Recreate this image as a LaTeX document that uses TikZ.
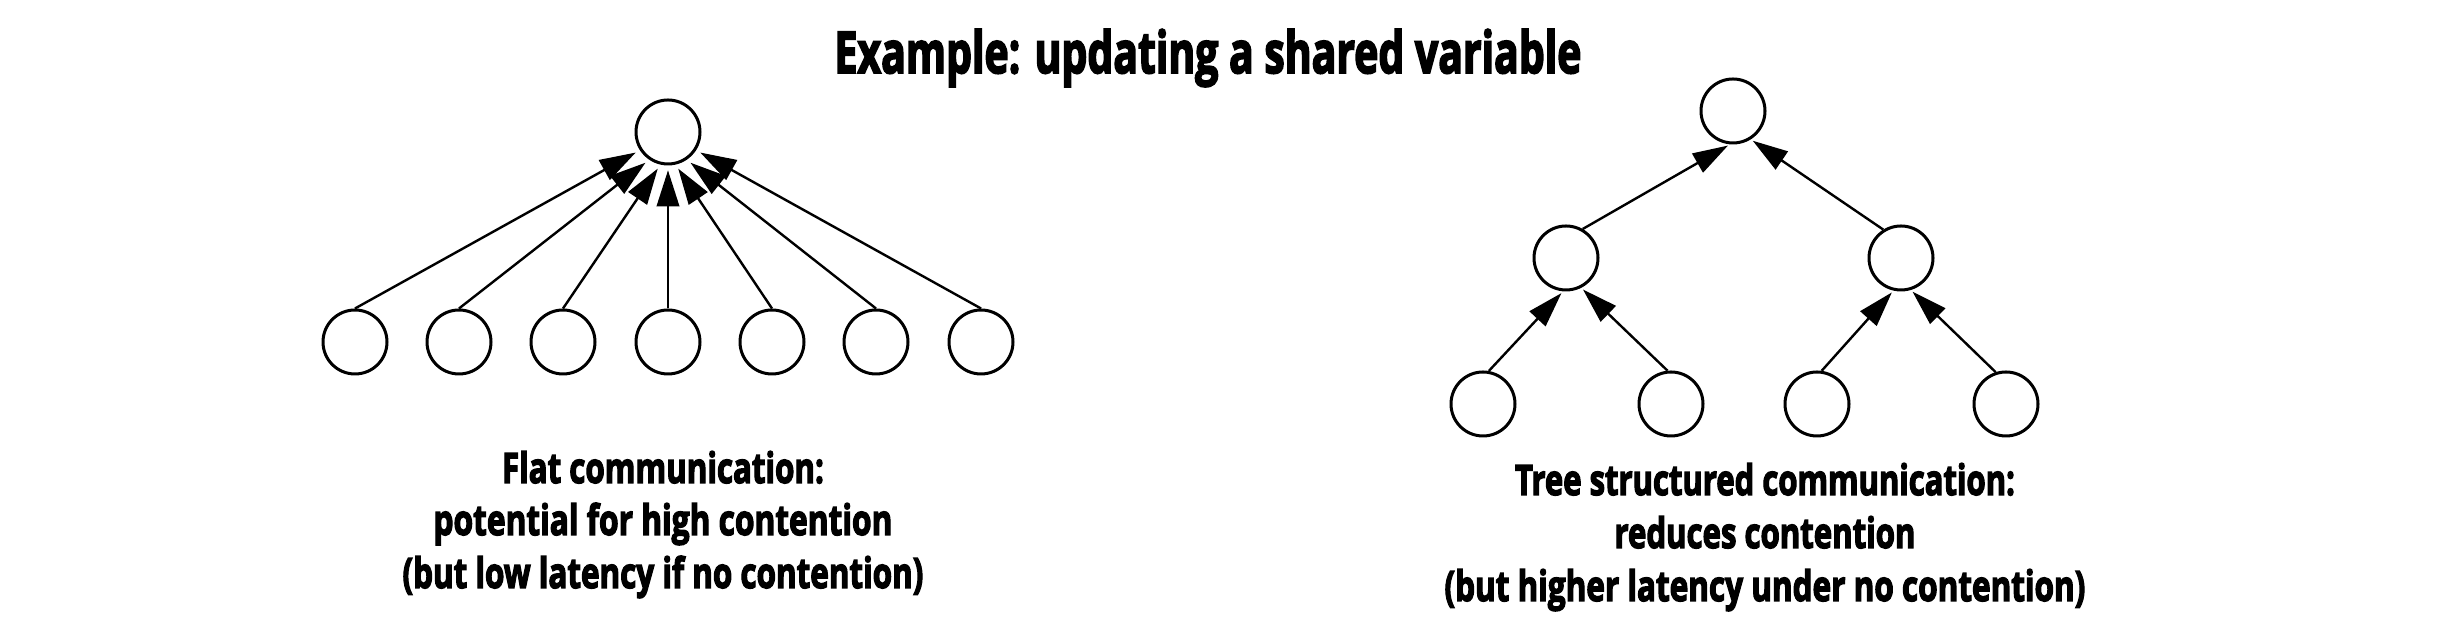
\documentclass[tikz,border=0pt]{standalone}
\usepackage{fontspec}
\usepackage{graphicx}
\usetikzlibrary{arrows.meta}
\newfontfamily\labfont{Open Sans}[FakeBold=3.5]
\tikzset{
  vtx/.style={circle, draw, line width=0.75pt, minimum size=16pt, inner sep=0pt},
  farr/.style={line width=0.6pt, -{Triangle[length=9pt,width=5.6pt]}, shorten >=1.2pt},
  tarr/.style={line width=0.6pt, -{Triangle[length=8.8pt,width=5.4pt]}, shorten >=0.6pt},
  lab/.style={font=\labfont\bfseries\fontsize{10.5pt}{12pt}\selectfont, inner sep=0pt, anchor=base},
  ttl/.style={font=\labfont\bfseries\fontsize{14.4pt}{17pt}\selectfont, inner sep=0pt, anchor=base}
}
\begin{document}
\begin{tikzpicture}[x=0.25pt,y=-0.25pt]
\useasboundingbox (0,0) rectangle (2456,638);
\fill[white] (0,0) rectangle (2456,638);
% title
\node[ttl] (title) at (1208,73) {\resizebox{186.75pt}{\height}{Example: updating a shared variable}};
% flat
\node[vtx] (ftop) at (668,132) {};
\foreach \i/\x in {1/355,2/459,3/563,4/668,5/772,6/876,7/981}
  \node[vtx] (f\i) at (\x,342) {};
\draw[farr] (f1.north) -- (ftop.-147);
\draw[farr] (f2.north) -- (ftop.-124);
\draw[farr] (f3.north) -- (ftop.-103);
\draw[farr] (f4.north) -- (ftop.-90);
\draw[farr] (f5.north) -- (ftop.-77);
\draw[farr] (f6.north) -- (ftop.-56);
\draw[farr] (f7.north) -- (ftop.-33);
\node[lab] (fl1) at (663,483) {\resizebox{80.5pt}{\height}{Flat communication:}};
\node[lab] (fl2) at (663,535) {\resizebox{114.75pt}{\height}{potential for high contention}};
\node[lab] (fl3) at (663,588) {\resizebox{130.25pt}{\height}{(but low latency if no contention)}};
% tree
\node[vtx] (root) at (1733,111) {};
\node[vtx] (ml) at (1566,258) {};
\node[vtx] (mr) at (1901,258) {};
\node[vtx] (l1) at (1483,404) {};
\node[vtx] (l2) at (1671,404) {};
\node[vtx] (l3) at (1817,404) {};
\node[vtx] (l4) at (2006,404) {};
\draw[tarr] (ml.60) -- (root.-95);
\draw[tarr] (mr.122) -- (root.-58);
\draw[tarr] (l1.80) -- (ml.-95);
\draw[tarr] (l2.96) -- (ml.-63);
\draw[tarr] (l3.82) -- (mr.-103);
\draw[tarr] (l4.108) -- (mr.-73);
\node[lab] (tl1) at (1765,495) {\resizebox{125pt}{\height}{Tree structured communication:}};
\node[lab] (tl2) at (1765,548) {\resizebox{75.25pt}{\height}{reduces contention}};
\node[lab] (tl3) at (1765,601) {\resizebox{160.25pt}{\height}{(but higher latency under no contention)}};
\end{tikzpicture}
\end{document}
